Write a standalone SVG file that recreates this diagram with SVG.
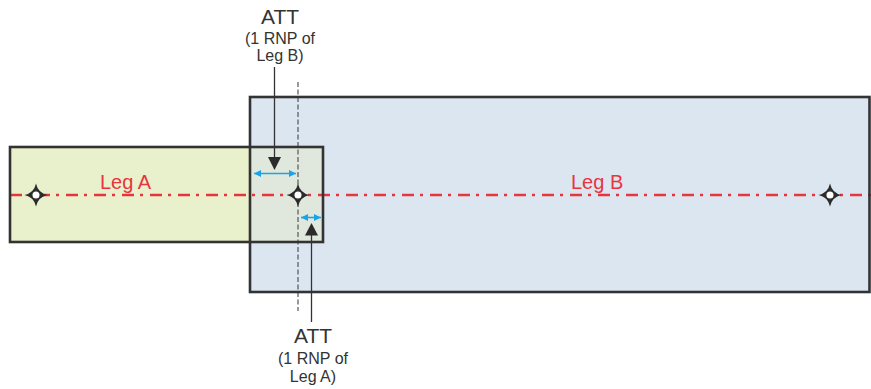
<svg xmlns="http://www.w3.org/2000/svg" xmlns:xlink="http://www.w3.org/1999/xlink" width="871" height="389" viewBox="0 0 871 389">
<style>
.box{stroke:#333;stroke-width:2.6;fill:none}
.t{font-family:"Liberation Sans",Arial,sans-serif;fill:#333;text-anchor:middle}
.big{font-size:21px}
.small{font-size:16px}
.leg{font-family:"Liberation Sans",Arial,sans-serif;font-size:20px;fill:#e8343e}
.track{stroke:#e8343e;stroke-width:2.6;stroke-dasharray:12 6 3 7;fill:none}
.ptr{stroke:#333;stroke-width:1.3;fill:none}
.blue{stroke:#1aa3e8;stroke-width:1.6;fill:none;marker-start:url(#bs);marker-end:url(#be)}
</style>
<defs>
<marker id="be" markerWidth="8" markerHeight="8" refX="7" refY="4" orient="auto" markerUnits="userSpaceOnUse"><path d="M0,0.5 L7,4 L0,7.5 Z" fill="#1aa3e8"/></marker>
<marker id="bs" markerWidth="8" markerHeight="8" refX="1" refY="4" orient="auto" markerUnits="userSpaceOnUse"><path d="M8,0.5 L1,4 L8,7.5 Z" fill="#1aa3e8"/></marker>
<g id="wp"><path d="M0,-11.5 Q2,-2 11.5,0 Q2,2 0,11.5 Q-2,2 -11.5,0 Q-2,-2 0,-11.5 Z" fill="#2b2b2b"/><circle r="4.2" fill="#fff" stroke="#2b2b2b" stroke-width="1.3"/></g>
</defs>
<rect width="871" height="389" fill="#fff"/>
<g id="legB"><rect x="250" y="97" width="619.5" height="195" fill="#dce6f0"/></g>
<g id="legA"><rect x="10" y="147" width="313" height="95" fill="#e9f0cc"/><rect x="250" y="147" width="73" height="95" fill="#e0e8dd"/></g>
<line x1="298" y1="82" x2="298" y2="311" stroke="#555" stroke-width="1.2" stroke-dasharray="5 2.5"/>
<line class="track" x1="10" y1="195" x2="871" y2="195"/>
<rect class="box" x="250" y="97" width="619.5" height="195"/>
<rect class="box" x="10" y="147" width="313" height="95"/>
<g id="connectors">
<line class="ptr" x1="274.5" y1="67" x2="274.5" y2="158"/>
<path d="M268,157 L281,157 L274.5,170 Z" fill="#2b2b2b"/>
<line class="ptr" x1="311.5" y1="234" x2="311.5" y2="322"/>
<path d="M305,235.5 L318,235.5 L311.5,223 Z" fill="#2b2b2b"/>
<line class="blue" x1="254" y1="173.5" x2="296" y2="173.5"/>
<line class="blue" x1="301" y1="217.5" x2="321" y2="217.5"/>
</g>
<g id="wp1"><use xlink:href="#wp" x="36" y="195"/></g>
<g id="wp2"><use xlink:href="#wp" x="298" y="195"/></g>
<g id="wp3"><use xlink:href="#wp" x="830" y="195"/></g>
<text class="leg" x="100" y="188.5">Leg A</text>
<text class="leg" x="571" y="188.5">Leg B</text>
<g id="attB" class="t"><text class="big" x="280" y="24">ATT</text><text class="small" x="280" y="44">(1 RNP of</text><text class="small" x="280" y="61">Leg B)</text></g>
<g id="attA" class="t"><text class="big" x="313" y="343">ATT</text><text class="small" x="313" y="364">(1 RNP of</text><text class="small" x="313" y="382">Leg A)</text></g>
</svg>
